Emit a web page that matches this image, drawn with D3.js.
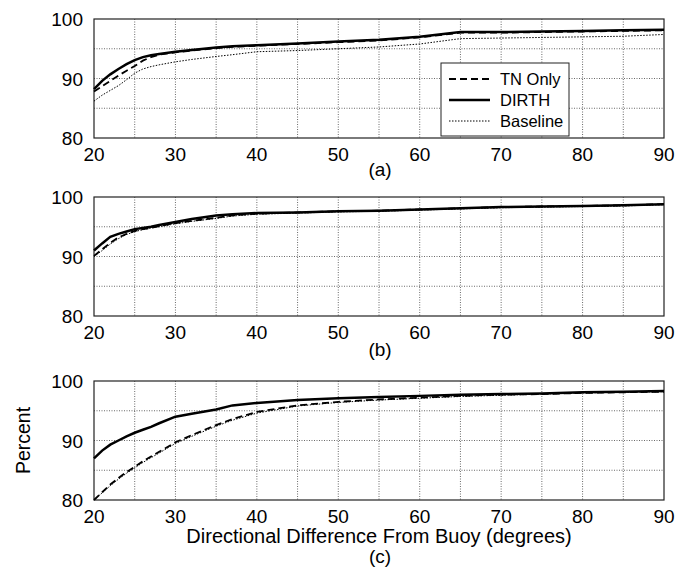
<!DOCTYPE html>
<html>
<head>
<meta charset="utf-8">
<script src="https://cdn.jsdelivr.net/npm/d3@7"></script>
<style>
  body { margin: 0; background: #fff; }
  svg { display: block; font-family: "Liberation Sans", Arial, sans-serif; }
</style>
</head>
<body>
<div id="container"></div>
<script>
// x positions (degrees) shared by every curve
var degrees = [20, 21, 22, 23, 24, 25, 26, 27, 28, 30, 32, 35, 37, 40, 45, 50, 55, 60, 65, 70, 75, 80, 85, 90];

// panel (a)
var dirthA    = [88.2, 89.6, 90.7, 91.6, 92.4, 93.1, 93.6, 93.9, 94.1, 94.5, 94.8, 95.2, 95.4, 95.6, 95.9, 96.2, 96.5, 97.0, 97.8, 97.8, 97.9, 98.0, 98.1, 98.2];
var tnOnlyA   = [87.8, 88.7, 89.6, 90.5, 91.3, 92.1, 93.0, 93.6, 94.0, 94.4, 94.7, 95.1, 95.3, 95.5, 95.8, 96.1, 96.4, 96.9, 97.7, 97.7, 97.8, 97.9, 98.0, 98.1];
var baselineA = [86.2, 87.2, 88.0, 88.8, 89.8, 90.9, 91.6, 92.0, 92.3, 92.8, 93.2, 93.7, 94.0, 94.5, 94.7, 95.0, 95.3, 95.8, 96.7, 96.8, 96.9, 97.0, 97.1, 97.4];

// panel (b)
var dirthB    = [91.0, 92.2, 93.3, 93.8, 94.2, 94.6, 94.8, 95.0, 95.3, 95.8, 96.3, 96.9, 97.1, 97.3, 97.4, 97.6, 97.7, 97.9, 98.1, 98.3, 98.4, 98.5, 98.6, 98.8];
var tnOnlyB   = [90.1, 91.2, 92.3, 93.2, 93.8, 94.3, 94.6, 94.8, 95.1, 95.6, 96.0, 96.5, 96.9, 97.2, 97.4, 97.6, 97.7, 97.9, 98.1, 98.3, 98.4, 98.5, 98.6, 98.8];
var baselineB = [90.0, 91.0, 92.1, 93.0, 93.7, 94.2, 94.5, 94.8, 95.0, 95.5, 95.9, 96.4, 96.8, 97.1, 97.3, 97.5, 97.6, 97.8, 98.0, 98.2, 98.3, 98.4, 98.5, 98.7];

// panel (c)
var dirthC    = [87.0, 88.3, 89.3, 90.0, 90.7, 91.3, 91.8, 92.3, 92.9, 94.0, 94.5, 95.2, 95.9, 96.3, 96.8, 97.1, 97.3, 97.5, 97.7, 97.8, 97.9, 98.1, 98.2, 98.3];
var tnOnlyC   = [80.0, 81.3, 82.6, 83.7, 84.7, 85.6, 86.5, 87.3, 88.1, 89.7, 90.9, 92.6, 93.6, 94.8, 95.9, 96.5, 96.9, 97.2, 97.5, 97.7, 97.8, 98.0, 98.1, 98.2];
var baselineC = [80.0, 81.2, 82.4, 83.5, 84.5, 85.4, 86.3, 87.1, 87.9, 89.5, 90.7, 92.4, 93.4, 94.6, 95.8, 96.4, 96.8, 97.1, 97.4, 97.6, 97.8, 98.0, 98.1, 98.2];

var xTicks = [20, 30, 40, 50, 60, 70, 80, 90];
var yTicks = [80, 90, 100];
var xGrid = [25, 30, 35, 40, 45, 50, 55, 60, 65, 70, 75, 80, 85];
var yGrid = [85, 90, 95];
var seriesNames = ["TN Only", "DIRTH", "Baseline"];
var panelLabels = ["(a)", "(b)", "(c)"];

var panels = [
  {label: panelLabels[0], top: 19,  series: [tnOnlyA, dirthA, baselineA], labelGap: 38},
  {label: panelLabels[1], top: 197, series: [tnOnlyB, dirthB, baselineB], labelGap: 40},
  {label: panelLabels[2], top: 381, series: [tnOnlyC, dirthC, baselineC], labelGap: 63}
];

var W = 686, H = 574;
var left = 94, right = 664, ph = 119;

var styles = {
  "TN Only":  {width: 1.8, dash: "7,4"},
  "DIRTH":    {width: 2.5, dash: null},
  "Baseline": {width: 1,   dash: "1.5,1.5"}
};

var svg = d3.select("#container").append("svg")
  .attr("width", W)
  .attr("height", H);

var x = d3.scaleLinear().domain([20, 90]).range([left, right]);

panels.forEach(function(p) {
  var y = d3.scaleLinear().domain([80, 100]).range([p.top + ph, p.top]);
  var g = svg.append("g");

  // grid
  g.selectAll(".vg").data(xGrid).enter().append("line")
    .attr("x1", function(d) { return x(d); })
    .attr("x2", function(d) { return x(d); })
    .attr("y1", p.top).attr("y2", p.top + ph)
    .attr("stroke", "#444").attr("stroke-width", 0.8)
    .attr("stroke-dasharray", "1,1.5");
  g.selectAll(".hg").data(yGrid).enter().append("line")
    .attr("x1", left).attr("x2", right)
    .attr("y1", function(d) { return y(d); })
    .attr("y2", function(d) { return y(d); })
    .attr("stroke", "#444").attr("stroke-width", 0.8)
    .attr("stroke-dasharray", "1,1.5");

  // frame
  g.append("rect")
    .attr("x", left).attr("y", p.top)
    .attr("width", right - left).attr("height", ph)
    .attr("fill", "none").attr("stroke", "#222").attr("stroke-width", 1.2);

  // curves
  var line = d3.line()
    .x(function(d, i) { return x(degrees[i]); })
    .y(function(d) { return y(d); });

  // baseline first, then TN, DIRTH on top
  [2, 0, 1].forEach(function(si) {
    var st = styles[seriesNames[si]];
    g.append("path")
      .datum(p.series[si])
      .attr("d", line)
      .attr("fill", "none")
      .attr("stroke", "#000")
      .attr("stroke-width", st.width)
      .attr("stroke-dasharray", st.dash);
  });

  // tick labels
  g.selectAll(".xt").data(xTicks).enter().append("text")
    .attr("x", function(d) { return x(d); })
    .attr("y", p.top + ph + 23)
    .attr("text-anchor", "middle")
    .attr("font-size", "19px")
    .text(function(d) { return d; });
  g.selectAll(".yt").data(yTicks).enter().append("text")
    .attr("x", left - 11)
    .attr("y", function(d) { return y(d) + 7; })
    .attr("text-anchor", "end")
    .attr("font-size", "19px")
    .text(function(d) { return d; });

  // panel label
  g.append("text")
    .attr("x", x(55) + 1)
    .attr("y", p.top + ph + p.labelGap)
    .attr("text-anchor", "middle")
    .attr("font-size", "19px")
    .text(p.label);
});

// x axis title
svg.append("text")
  .attr("x", x(55))
  .attr("y", 543)
  .attr("text-anchor", "middle")
  .attr("font-size", "20px")
  .text("Directional Difference From Buoy (degrees)");

// y axis title
svg.append("text")
  .attr("transform", "translate(30," + (381 + ph / 2) + ") rotate(-90)")
  .attr("text-anchor", "middle")
  .attr("font-size", "19.5px")
  .text("Percent");

// legend in panel (a)
var lg = svg.append("g").attr("transform", "translate(441,63)");
lg.append("rect")
  .attr("width", 128).attr("height", 73)
  .attr("fill", "#fff").attr("stroke", "#222").attr("stroke-width", 1);
seriesNames.forEach(function(name, i) {
  var st = styles[name];
  var yy = 16 + i * 21;
  lg.append("line")
    .attr("x1", 8).attr("x2", 49)
    .attr("y1", yy).attr("y2", yy)
    .attr("stroke", "#000")
    .attr("stroke-width", st.width)
    .attr("stroke-dasharray", st.dash);
  lg.append("text")
    .attr("x", 59).attr("y", yy + 6)
    .attr("font-size", "16.5px")
    .text(name);
});
</script>
</body>
</html>
